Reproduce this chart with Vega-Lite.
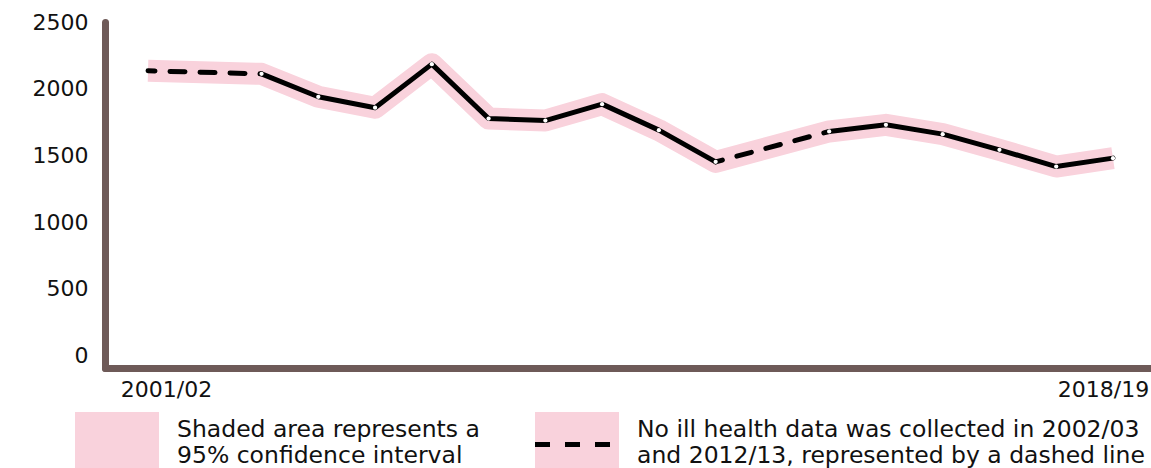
{
  "$schema": "https://vega.github.io/schema/vega-lite/v6.json",
  "autosize": "none",
  "width": 1051,
  "height": 346,
  "padding": {"left": 105, "top": 22, "right": 0, "bottom": 100},
  "background": "white",
  "config": {
    "view": {"stroke": null},
    "font": "DejaVu Sans",
    "axis": {"grid": false, "ticks": false, "title": null, "domainColor": "#6e5a58", "domainWidth": 7, "domainCap": "round", "labelColor": "#111111", "labelFont": "DejaVu Sans", "labelFontSize": 22}
  },
  "data": {
    "values": [
      {"year": "2001/02", "rate": 2134, "run": null, "gap": "g1"},
      {"year": "2003/04", "rate": 2111, "run": "a", "gap": "g1"},
      {"year": "2004/05", "rate": 1939, "run": "a", "gap": null},
      {"year": "2005/06", "rate": 1857, "run": "a", "gap": null},
      {"year": "2006/07", "rate": 2184, "run": "a", "gap": null},
      {"year": "2007/08", "rate": 1776, "run": "a", "gap": null},
      {"year": "2008/09", "rate": 1761, "run": "a", "gap": null},
      {"year": "2009/10", "rate": 1884, "run": "a", "gap": null},
      {"year": "2010/11", "rate": 1689, "run": "a", "gap": null},
      {"year": "2011/12", "rate": 1451, "run": "a", "gap": "g2"},
      {"year": "2013/14", "rate": 1679, "run": "b", "gap": "g2"},
      {"year": "2014/15", "rate": 1729, "run": "b", "gap": null},
      {"year": "2015/16", "rate": 1659, "run": "b", "gap": null},
      {"year": "2016/17", "rate": 1541, "run": "b", "gap": null},
      {"year": "2017/18", "rate": 1416, "run": "b", "gap": null},
      {"year": "2018/19", "rate": 1479, "run": "b", "gap": null}
    ]
  },
  "encoding": {
    "x": {
      "field": "year",
      "type": "ordinal",
      "scale": {
        "type": "point",
        "padding": 0.758,
        "domain": ["2001/02", "2002/03", "2003/04", "2004/05", "2005/06", "2006/07", "2007/08", "2008/09", "2009/10", "2010/11", "2011/12", "2012/13", "2013/14", "2014/15", "2015/16", "2016/17", "2017/18", "2018/19"]
      },
      "axis": {
        "values": ["2001/02", "2018/19"],
        "labelAngle": 0,
        "labelBaseline": "top",
        "labelPadding": 11,
        "labelOffset": {"condition": {"test": "datum.value === '2001/02'", "value": 18}, "value": -10}
      }
    },
    "y": {
      "field": "rate",
      "type": "quantitative",
      "scale": {"domain": [-95, 2500], "nice": false, "zero": false},
      "axis": {"values": [0, 500, 1000, 1500, 2000, 2500], "format": "d", "labelPadding": 17}
    }
  },
  "layer": [
    {
      "mark": {"type": "line", "strokeWidth": 22, "strokeJoin": "round", "strokeCap": "butt"},
      "encoding": {
        "stroke": {
          "datum": "Shaded area represents a|95% confidence interval",
          "type": "nominal",
          "scale": {
            "domain": ["Shaded area represents a|95% confidence interval", "No ill health data was collected in 2002/03|and 2012/13, represented by a dashed line"],
            "range": ["#f9d2dc", "#f9d2dc"]
          },
          "legend": {
            "orient": "none",
            "legendX": -30,
            "legendY": 373,
            "direction": "horizontal",
            "columns": 2,
            "title": null,
            "padding": 0,
            "symbolType": "M-1,-0.6H1V0.8H-1Z",
            "symbolSize": 7056,
            "symbolStrokeWidth": 0,
            "symbolFillColor": "#f9d2dc",
            "symbolOpacity": 1,
            "labelExpr": "split(datum.label, '|')",
            "labelFont": "DejaVu Sans",
            "labelFontSize": 23.5,
            "labelColor": "#111111",
            "labelBaseline": "alphabetic",
            "labelOffset": 18,
            "labelLimit": 0,
            "columnPadding": 55
          }
        }
      }
    },
    {
      "transform": [{"filter": "datum.gap != null"}],
      "mark": {"type": "line", "color": "black", "strokeWidth": 5, "strokeCap": "round", "strokeDashOffset": 8},
      "encoding": {
        "detail": {"field": "gap"},
        "strokeDash": {
          "datum": "dash",
          "type": "nominal",
          "scale": {"domain": ["dash"], "range": [[15, 15]]},
          "legend": {
            "orient": "none",
            "legendX": 427.5,
            "legendY": 378,
            "title": null,
            "padding": 0,
            "symbolType": "stroke",
            "symbolSize": 7056,
            "symbolStrokeWidth": 5,
            "symbolStrokeColor": "black",
            "symbolDash": [17, 5.5],
            "labelExpr": "''"
          }
        }
      }
    },
    {
      "transform": [{"filter": "datum.run != null"}],
      "mark": {"type": "line", "color": "black", "strokeWidth": 5, "strokeCap": "round", "strokeJoin": "round"},
      "encoding": {"detail": {"field": "run"}}
    },
    {
      "transform": [{"filter": "datum.year !== '2001/02'"}],
      "mark": {"type": "circle", "color": "white", "size": 18, "opacity": 1}
    }
  ]
}
